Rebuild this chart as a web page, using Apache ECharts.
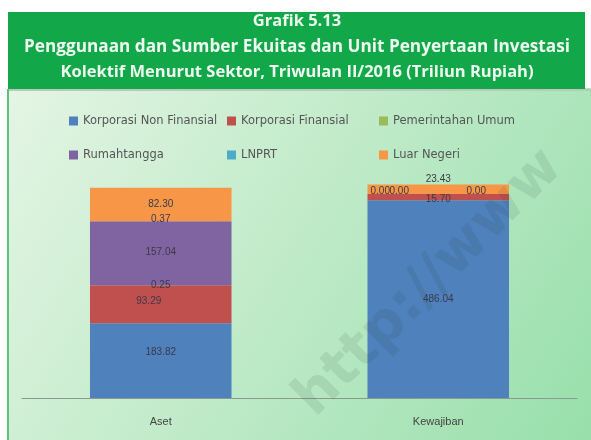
<!DOCTYPE html>
<html>
<head>
<meta charset="utf-8">
<script src="https://cdn.jsdelivr.net/npm/echarts@6/dist/echarts.min.js"></script>
<style>
  html, body { margin: 0; padding: 0; background: #fff; }
  #chart { width: 591px; height: 440px; }
</style>
</head>
<body>
<div id="chart"></div>
<script>
const categories = ["Aset", "Kewajiban"];
const seriesNames = [
  "Korporasi Non Finansial",
  "Korporasi Finansial",
  "Pemerintahan Umum",
  "Rumahtangga",
  "LNPRT",
  "Luar Negeri"
];
const korporasiNonFinansial = [183.82, 486.04];
const korporasiFinansial = [93.29, 15.70];
const pemerintahanUmum = [0.25, 0.00];
const rumahtangga = [157.04, 0.00];
const lnprt = [0.37, 0.00];
const luarNegeri = [82.30, 23.43];
const titleLines = [
  "Grafik 5.13",
  "Penggunaan dan Sumber Ekuitas dan Unit Penyertaan Investasi",
  "Kolektif Menurut Sektor, Triwulan II/2016 (Triliun Rupiah)"
];

const values = [korporasiNonFinansial, korporasiFinansial, pemerintahanUmum, rumahtangga, lnprt, luarNegeri];
const colors = ["#4f81bd", "#c0504d", "#9bbb59", "#8064a2", "#4bacc6", "#f79646"];

// label nudges so the crowded labels sit like in the original
const labelOffsets = [
  [[0, -8], [0, 0]],
  [[-12, -3], [0, 2]],
  [[0, 0], [-58, -3]],
  [[0, -1], [-39, -3]],
  [[0, -2], [38, -3]],
  [[0, 0], [0, -10]]
];

const chart = echarts.init(document.getElementById("chart"));

const series = seriesNames.map((name, i) => ({
  name: name,
  type: "bar",
  stack: "total",
  barWidth: "51%",
  itemStyle: { color: colors[i] },
  label: {
    show: true,
    position: "inside",
    color: "#3a3a4a",
    fontSize: 10,
    formatter: (p) => p.value.toFixed(2)
  },
  data: values[i].map((v, j) => ({
    value: v,
    label: { offset: labelOffsets[i][j] }
  }))
}));

const titleY = [21, 47, 72];
const titleGraphics = titleLines.map((t, i) => ({
  type: "text",
  z: 10,
  x: 297,
  y: titleY[i],
  style: {
    text: t,
    align: "center",
    verticalAlign: "middle",
    fill: "#eefaf0",
    fontFamily: "Open Sans",
    fontWeight: "bold",
    fontSize: i === 1 ? 17.2 : 16.5
  }
}));

chart.setOption({
  animation: false,
  graphic: [
    {
      type: "rect",
      z: -10,
      shape: { x: 8, y: 88, width: 583, height: 352 },
      style: {
        fill: new echarts.graphic.LinearGradient(0, 0, 1, 1, [
          { offset: 0, color: "#e4f5e4" },
          { offset: 1, color: "#98dfab" }
        ])
      }
    },
    {
      type: "rect",
      z: -9,
      shape: { x: 8, y: 12, width: 577, height: 77 },
      style: { fill: "#12a84a" }
    },
    {
      type: "rect",
      z: -9,
      shape: { x: 8, y: 89, width: 583, height: 2 },
      style: { fill: "#b9c9bb" }
    },
    {
      type: "rect",
      z: -9,
      shape: { x: 7, y: 89, width: 2, height: 351 },
      style: { fill: "#5cc47a" }
    },
    {
      type: "text",
      z: 100,
      x: 285,
      y: 388,
      rotation: Math.PI / 4,
      style: {
        text: "http://www",
        fontSize: 56,
        fontWeight: "bold",
        fontFamily: "DejaVu Sans",
        fill: "rgba(40,60,50,0.1)"
      }
    }
  ].concat(titleGraphics),
  legend: [
    { left: 64, top: 110, data: [seriesNames[0], seriesNames[3]] },
    { left: 222, top: 110, data: [seriesNames[1], seriesNames[4]] },
    { left: 374, top: 110, data: [seriesNames[2], seriesNames[5]] }
  ].map((l) => Object.assign(l, {
    orient: "vertical",
    icon: "rect",
    itemWidth: 9,
    itemHeight: 9,
    itemGap: 22,
    textStyle: { color: "#555", fontSize: 11.5, fontFamily: "DejaVu Sans" }
  })),
  grid: { left: 22, right: 14, top: 154, bottom: 42 },
  xAxis: {
    type: "category",
    data: categories,
    axisTick: { show: false },
    axisLine: { lineStyle: { color: "#8a9a8e", width: 1 } },
    axisLabel: { color: "#444", fontSize: 11, fontFamily: "Liberation Sans", margin: 18 }
  },
  yAxis: {
    type: "value",
    min: 0,
    max: 600,
    show: false,
    splitLine: { show: false }
  },
  series: series
});
</script>
</body>
</html>
